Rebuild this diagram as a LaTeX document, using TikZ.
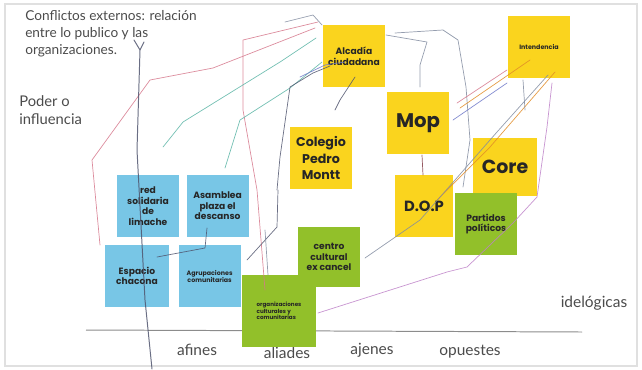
\documentclass[tikz,border=0pt]{standalone}
\usepackage{fontspec}
\setmainfont{Lato}
\newfontfamily\notefont{Poppins}
\usetikzlibrary{positioning}

\definecolor{noteyellow}{RGB}{250,212,30}
\definecolor{notegreen}{RGB}{146,192,42}
\definecolor{noteblue}{RGB}{120,198,230}
\definecolor{labelgray}{RGB}{75,75,75}

\begin{document}
\begin{tikzpicture}[
x=0.025cm, y=-0.025cm,
note/.style={rectangle, minimum width=1.55cm, minimum height=1.55cm, inner sep=1pt, align=center, text=black!85, font=\notefont\bfseries\fontsize{6.5}{7.5}\selectfont},
yellownote/.style={note, fill=noteyellow},
greennote/.style={note, fill=notegreen},
bluenote/.style={note, fill=noteblue},
label/.style={text=labelgray, font=\fontsize{9.7}{12}\selectfont, align=left, inner sep=0pt},
axislabel/.style={label, font=\fontsize{11}{13}\selectfont},
scribble/.style={line width=0.5pt, opacity=0.85, line join=round, line cap=round},
pinkline/.style={scribble, draw={rgb,255:red,214;green,120;blue,140}},
tealline/.style={scribble, draw={rgb,255:red,90;green,180;blue,165}},
slateline/.style={scribble, draw={rgb,255:red,80;green,85;blue,110}},
greyline/.style={scribble, draw={rgb,255:red,130;green,140;blue,160}},
blueline/.style={scribble, draw={rgb,255:red,110;green,120;blue,200}},
orangeline/.style={scribble, draw={rgb,255:red,225;green,140;blue,40}},
purpleline/.style={scribble, draw={rgb,255:red,190;green,130;blue,200}}
]

\useasboundingbox (0,0) rectangle (642,369);
\draw[black!12, line width=0.8pt] (5,4) rectangle (637,366);

\node[label, anchor=north west] (title) at (25,10) {Conflictos externos: relación\\entre lo publico y las\\organizaciones.};
\node[label, anchor=north west, font=\fontsize{10.5}{13}\selectfont] (poder) at (19,95) {Poder o\\influencia};
\node[axislabel] (ideo) at (594,303) {idelógicas};

\coordinate (axisl) at (86,330);
\coordinate (axisr) at (582,332);
\draw[black!45, line width=0.7pt] (axisl) -- (axisr);

\node[axislabel] (afines) at (197,350) {afines};
\node[axislabel] (ajenes) at (372,350) {ajenes};
\node[axislabel] (opuestes) at (470,352) {opuestes};
\node[axislabel] (aliades) at (287,353) {aliades};

\node[yellownote] (alcaldia) at (354,56) {Alcadía\\ciudadana};
\node[yellownote, font=\notefont\bfseries\fontsize{4.5}{5}\selectfont] (intendencia) at (539,47) {Intendencia};
\node[yellownote, font=\notefont\bfseries\fontsize{9}{12}\selectfont] (colegio) at (321,158) {Colegio\\Pedro\\Montt};
\node[yellownote, font=\notefont\bfseries\fontsize{14}{16}\selectfont] (mop) at (418,123) {Mop};
\node[yellownote, minimum width=1.45cm, font=\notefont\bfseries\fontsize{10.5}{12}\selectfont] (dop) at (424,206) {D.O.P};
\node[yellownote, minimum width=1.6cm, minimum height=1.45cm, font=\notefont\bfseries\fontsize{13.5}{15}\selectfont] (core) at (505,167) {Core};

\node[greennote] (partidos) at (486,224) {Partidos\\políticos};
\node[greennote, minimum height=1.5cm] (centro) at (329,257) {centro\\cultural\\ex cancel};

\node[bluenote] (red) at (148,206) {red\\solidaria\\de\\limache};
\node[bluenote, right=0.175cm of red] (asamblea) {Asamblea\\plaza el\\descanso};
\node[bluenote, minimum width=1.6cm] (espacio) at (137,276) {Espacio\\chacona};
\node[bluenote, right=0.225cm of espacio, font=\notefont\bfseries\fontsize{4.5}{5}\selectfont] (agrupaciones) {Agrupaciones\\comunitarias};

\node[greennote, minimum width=1.85cm, minimum height=1.8cm, font=\notefont\bfseries\fontsize{4}{4.8}\selectfont, align=left] (organizaciones) at (279,311) {organizaciones\\culturales y\\comunitarias};

\draw[pinkline] (100,245) -- (92,160) -- (150,80) -- (213,68) -- (315,28);
\draw[pinkline] (318,22) -- (243,40) -- (243,110) -- (257,190) -- (265,290);
\draw[slateline, line width=0.7pt] (134,40) -- (140,50) -- (144,42);
\draw[slateline, line width=0.7pt] (140,50) -- (137,150) -- (145,300) -- (152,369);
\draw[tealline] (163,147) -- (183,122) -- (280,62) -- (316,38);
\draw[tealline] (225,168) -- (240,120) -- (290,88) -- (322,62);
\draw[slateline] (277,190) -- (280,157) -- (290,87) -- (313,73) -- (330,66);
\draw[greyline] (285,22) -- (313,15) -- (322,25);
\draw[blueline] (300,77) -- (325,65) -- (345,62);
\draw[slateline] (355,77) -- (340,100) -- (335,110);
\draw[greyline] (386,35) -- (427,42) -- (420,65) -- (420,87);
\draw[greyline] (395,33) -- (443,30) -- (458,40) -- (466,87) -- (470,140) -- (463,187);
\draw[pinkline] (507,70) -- (457,103);
\draw[orangeline] (530,60) -- (460,108);
\draw[blueline] (507,83) -- (453,120);
\draw[orangeline] (555,72) -- (490,147) -- (437,200);
\draw[greyline] (548,75) -- (497,132) -- (420,220) -- (365,258);
\draw[purpleline] (552,83) -- (547,127) -- (537,197) -- (513,223) -- (467,267) -- (447,272) -- (318,313);
\draw[greyline] (523,80) -- (525,110);
\draw[slateline, draw={rgb,255:red,130;green,60;blue,70}] (422,155) -- (423,175);
\draw[slateline] (207,228) -- (205,248) -- (157,257);
\draw[slateline] (247,260) -- (277,227) -- (278,190);
\draw[greyline] (268,275) -- (265,230);

\end{tikzpicture}
\end{document}
